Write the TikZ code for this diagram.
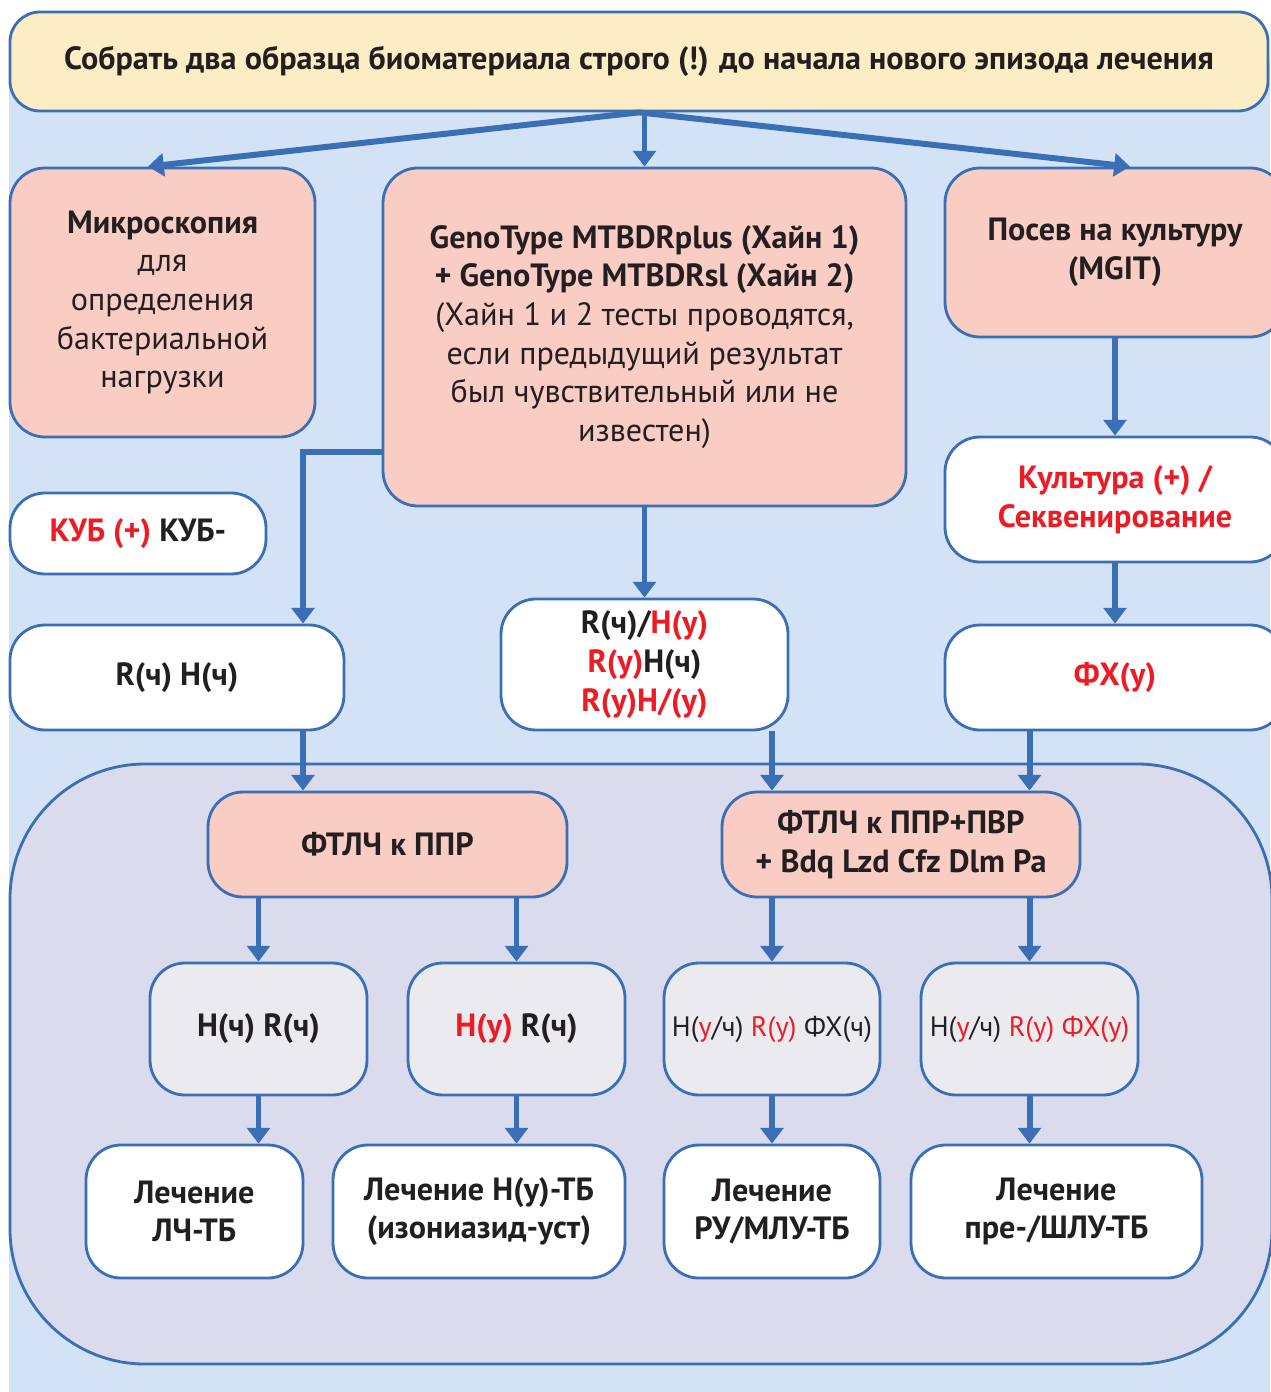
\documentclass[tikz,border=0pt]{standalone}
\usepackage{fontspec}
\setmainfont{PT Sans}
\usepackage{xcolor}
\usepackage{tikz}
\usetikzlibrary{calc}
\usetikzlibrary{arrows.meta}

\definecolor{lineblue}{RGB}{59,111,181}
\definecolor{bgblue}{RGB}{211,227,245}
\definecolor{boxyellow}{RGB}{252,237,196}
\definecolor{boxpink}{RGB}{249,205,196}
\definecolor{boxgrey}{RGB}{235,235,239}
\definecolor{lavender}{RGB}{218,219,236}
\definecolor{redtext}{RGB}{237,28,36}
\definecolor{darktext}{RGB}{35,31,32}

\newcommand{\rd}[1]{\textcolor{redtext}{#1}}

\tikzset{
    box/.style={draw=lineblue, line width=1.6pt, rounded corners=0.7cm,
        align=center, inner sep=0pt, text=darktext,
        font=\fontsize{18.3}{22}\selectfont\bfseries},
    pinkbox/.style={box, fill=boxpink},
    whitebox/.style={box, fill=white},
    greybox/.style={box, fill=boxgrey, minimum width=4.34cm, minimum height=2.64cm},
    endbox/.style={box, fill=white, minimum height=2.66cm},
    arrow/.style={draw=lineblue, line width=3.4pt, -{Triangle[width=13pt,length=9pt]}}
}

\begin{document}
\begin{tikzpicture}
        %FRAME
        \useasboundingbox (0,0) rectangle (25.4,-27.84);
        \fill[bgblue] (0.18,-1.2) rectangle (25.4,-27.84);

        %LOWER PANEL
        \draw[draw=lineblue, line width=1.6pt, fill=lavender, rounded corners=2.7cm]
            (0.2,-15.28) rectangle (25.44,-27.28);

        %TOP
        \node[box, fill=boxyellow, minimum width=25.16cm, minimum height=1.98cm, rounded corners=0.6cm]
            (top) at (12.78,-1.23) {Собрать два образца биоматериала строго (!) до начала нового эпизода лечения};

        %TESTS
        \node[pinkbox, minimum width=6.10cm, minimum height=5.38cm] (mikro) at (3.25,-6.05)
            {Микроскопия\\\textmd{для}\\\textmd{определения}\\\textmd{бактериальной}\\\textmd{нагрузки}};
        \node[pinkbox, minimum width=10.46cm, minimum height=6.76cm] (geno) at (12.89,-6.74)
            {GenoType MTBDRplus (Хайн 1)\\+ GenoType MTBDRsl (Хайн 2)\\\textmd{(Хайн 1 и 2 тесты проводятся,}\\\textmd{если предыдущий результат}\\\textmd{был чувствительный или не}\\\textmd{известен)}};
        \node[pinkbox, minimum width=6.80cm, minimum height=3.38cm] (posev) at (22.30,-5.05)
            {Посев на культуру\\(MGIT)};

        %RESULTS
        \node[whitebox, minimum width=6.80cm, minimum height=2.50cm, text=redtext] (kultura) at (22.30,-9.99)
            {Культура (+) /\\Секвенирование};
        \node[whitebox, minimum width=6.80cm, minimum height=2.10cm] (fx) at (22.30,-13.55) {\rd{ФХ(у)}};
        \node[whitebox, minimum width=5.12cm, minimum height=1.62cm] (kub) at (2.76,-10.67) {\rd{КУБ (+)} КУБ-};
        \node[whitebox, minimum width=6.68cm, minimum height=2.10cm] (rh) at (3.54,-13.55) {R(ч) H(ч)};
        \node[whitebox, minimum width=5.74cm, minimum height=2.62cm] (rhy) at (12.89,-13.29)
            {R(ч)/\rd{H(у)}\\\rd{R(у)}H(ч)\\\rd{R(у)H/(у)}};

        %DST
        \node[pinkbox, minimum width=7.18cm, minimum height=2.10cm] (ftlch1) at (7.75,-16.89) {ФТЛЧ к ППР};
        \node[pinkbox, minimum width=7.16cm, minimum height=2.10cm] (ftlch2) at (18.02,-16.89)
            {ФТЛЧ к ППР+ПВР\\+ Bdq Lzd Cfz Dlm Pa};

        %PROFILES
        \node[greybox] (g1) at (5.17,-20.58) {H(ч) R(ч)};
        \node[greybox] (g2) at (10.33,-20.58) {\rd{H(у)} R(ч)};
        \node[greybox, minimum width=4.32cm, font=\fontsize{16}{20}\selectfont] (g3) at (15.44,-20.58)
            {H(\rd{у}/ч) \rd{R(у)} ФХ(ч)};
        \node[greybox, font=\fontsize{16}{20}\selectfont] (g4) at (20.59,-20.58)
            {H(\rd{у}/ч) \rd{R(у) ФХ(у)}};

        %TREATMENT
        \node[endbox, minimum width=4.34cm] (t1) at (3.89,-24.23) {Лечение\\ЛЧ-ТБ};
        \node[endbox, minimum width=5.84cm] (t2) at (9.58,-24.23) {Лечение H(у)-ТБ\\(изониазид-уст)};
        \node[endbox, minimum width=4.32cm] (t3) at (15.44,-24.23) {Лечение\\РУ/МЛУ-ТБ};
        \node[endbox, minimum width=5.82cm] (t4) at (21.13,-24.23) {Лечение\\пре-/ШЛУ-ТБ};

        %ARROWS
        \coordinate (kx) at (6.06,0);
        \draw[arrow] (top.south) -- ([xshift=-0.29cm]mikro.north);
        \draw[arrow] (top.south -| geno.north) -- (geno.north);
        \draw[arrow] (top.south) -- ([xshift=0.3cm]posev.north);
        \draw[arrow] ([yshift=-2.3cm]geno.west) -| (rh.north -| kx);
        \draw[arrow] (geno.south) -- (rhy.north);
        \draw[arrow] (posev.south) -- (kultura.north);
        \draw[arrow] (kultura.south) -- (fx.north);
        \draw[arrow] (rh.south -| kx) -- (ftlch1.north -| kx);
        \draw[arrow] (rhy.south -| g3.north) -- (ftlch2.north -| g3.north);
        \draw[arrow] (fx.south -| g4.north) -- (ftlch2.north -| g4.north);
        \draw[arrow] (ftlch1.south -| g1.north) -- (g1.north);
        \draw[arrow] (ftlch1.south -| g2.north) -- (g2.north);
        \draw[arrow] (ftlch2.south -| g3.north) -- (g3.north);
        \draw[arrow] (ftlch2.south -| g4.north) -- (g4.north);
        \draw[arrow] (g1.south) -- (g1.south |- t1.north);
        \draw[arrow] (g2.south) -- (g2.south |- t2.north);
        \draw[arrow] (g3.south) -- (t3.north);
        \draw[arrow] (g4.south) -- (g4.south |- t4.north);
    \end{tikzpicture}
\end{document}
